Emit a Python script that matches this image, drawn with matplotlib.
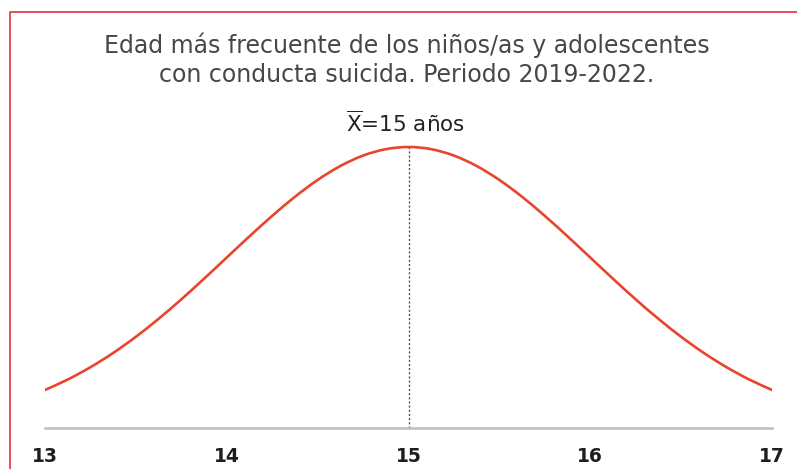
import matplotlib.pyplot as plt
from matplotlib.lines import Line2D
from matplotlib.path import Path
from matplotlib.patches import PathPatch

# Age axis (years) and relative frequency of each age
ages = [13.0, 13.125, 13.25, 13.375, 13.5, 13.625, 13.75, 13.875,
        14.0, 14.125, 14.25, 14.375, 14.5, 14.625, 14.75, 14.875,
        15.0, 15.125, 15.25, 15.375, 15.5, 15.625, 15.75, 15.875,
        16.0, 16.125, 16.25, 16.375, 16.5, 16.625, 16.75, 16.875, 17.0]
freq = [0.0540, 0.0688, 0.0863, 0.1065, 0.1295, 0.1550, 0.1826, 0.2119,
        0.2420, 0.2721, 0.3011, 0.3282, 0.3521, 0.3719, 0.3867, 0.3958,
        0.3989, 0.3958, 0.3867, 0.3719, 0.3521, 0.3282, 0.3011, 0.2721,
        0.2420, 0.2119, 0.1826, 0.1550, 0.1295, 0.1065, 0.0863, 0.0688, 0.0540]
tick_ages = [13, 14, 15, 16, 17]
mean_age = 15
peak_freq = 0.3989

title_lines = ["Edad más frecuente de los niños/as y adolescentes",
               "con conducta suicida. Periodo 2019-2022."]
mean_label = r"$\overline{\mathrm{X}}$" + "=15 años"


def smooth_path(xs, ys):
    """Catmull-Rom curve through the points, expressed as cubic Bezier segments."""
    pts = list(zip(xs, ys))
    verts = [pts[0]]
    codes = [Path.MOVETO]
    n = len(pts)
    for i in range(n - 1):
        p0 = pts[i - 1] if i > 0 else pts[i]
        p1 = pts[i]
        p2 = pts[i + 1]
        p3 = pts[i + 2] if i + 2 < n else pts[i + 1]
        c1 = (p1[0] + (p2[0] - p0[0]) / 6, p1[1] + (p2[1] - p0[1]) / 6)
        c2 = (p2[0] - (p3[0] - p1[0]) / 6, p2[1] - (p3[1] - p1[1]) / 6)
        verts += [c1, c2, p2]
        codes += [Path.CURVE4] * 3
    return Path(verts, codes)


W, H = 797, 469
fig = plt.figure(figsize=(W / 100, H / 100), dpi=100)
fig.patch.set_facecolor("white")

# Axes box in pixel terms
left, right, bottom_px, top_px = 45, 772, 428, 111
ax = fig.add_axes([left / W, 1 - bottom_px / H, (right - left) / W, (bottom_px - top_px) / H])
ax.set_xlim(13, 17)
ax.set_ylim(0, 0.45)

ax.add_patch(PathPatch(smooth_path(ages, freq), facecolor="none", edgecolor="#e8442e",
                       lw=1.9, capstyle="round", zorder=3))
ax.plot([mean_age, mean_age], [0, peak_freq], color="#555555", lw=1.0,
        linestyle=(0, (1.5, 1.5)), zorder=2)

for s in ["left", "right", "top"]:
    ax.spines[s].set_visible(False)
ax.spines["bottom"].set_color("#bdbdbd")
ax.spines["bottom"].set_linewidth(1.8)
ax.set_yticks([])
ax.set_xticks(tick_ages)
ax.set_xticklabels([str(t) for t in tick_ages], fontsize=13.5, fontweight="bold",
                   color="#1e1e1e", family="DejaVu Sans")
ax.tick_params(axis="x", length=0, pad=14)
ax.set_facecolor("none")

for i, line in enumerate(title_lines):
    fig.text(407 / W, 1 - (45 + 30 * i) / H, line, ha="center", va="center",
             fontsize=17, color="#474747", family="DejaVu Sans")
fig.text(406 / W, 1 - 123 / H, mean_label, ha="center", va="center", fontsize=15.5,
         color="#222222", family="DejaVu Sans")

# Red frame along the top and left edges
fig.add_artist(Line2D([10 / W, 10 / W, 1.0], [0.0, 1 - 12 / H, 1 - 12 / H],
                      transform=fig.transFigure, color="#e8404a", lw=1.3))

fig.savefig("out.png", dpi=100)
